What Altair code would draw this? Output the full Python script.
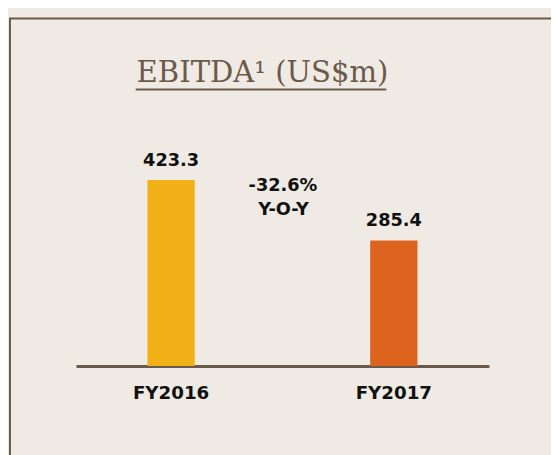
import altair as alt
import pandas as pd

years = ["FY2016", "FY2017"]
values = [423.3, 285.4]
bar_colors = ["#f0b016", "#dd641e"]
title_text = "EBITDA\u00b9 (US$m)"
yoy_lines = ["-32.6%", "Y-O-Y"]

df = pd.DataFrame({"year": years, "value": values})

BG = "#efeae4"
BROWN = "#6b5a4a"
SANS = "DejaVu Sans"
INK = "#111111"

x_scale = alt.Scale(domain=years, paddingInner=0.7876, paddingOuter=0.3208, align=0.5)
y_scale = alt.Scale(domain=[0, 598.4])

base = alt.Chart(df)

bars = base.mark_bar().encode(
    x=alt.X("year:N", scale=x_scale, sort=years, title=None,
            axis=alt.Axis(labelAngle=0, domainColor=BROWN, domainWidth=3, ticks=False, tickSize=0,
                          labelFont=SANS, labelFontSize=18.5, labelFontWeight="bold",
                          labelColor=INK, labelBaseline="alphabetic", labelPadding=33, grid=False)),
    y=alt.Y("value:Q", scale=y_scale, axis=None),
    color=alt.Color("year:N", scale=alt.Scale(domain=years, range=bar_colors), legend=None),
)

labels = base.mark_text(baseline="alphabetic", dy=-14.5, font=SANS, fontSize=18,
                        fontWeight="bold", color=INK).encode(
    x=alt.X("year:N", scale=x_scale, sort=years),
    y=alt.Y("value:Q", scale=y_scale),
    text=alt.Text("value:Q", format=".1f"),
)

yoy1 = alt.Chart(pd.DataFrame({"t": [yoy_lines[0]]})).mark_text(
    font=SANS, fontSize=18, fontWeight="bold", color=INK, baseline="alphabetic").encode(
    x=alt.value(210), y=alt.value(89), text="t:N")
yoy2 = alt.Chart(pd.DataFrame({"t": [yoy_lines[1]]})).mark_text(
    font=SANS, fontSize=18, fontWeight="bold", color=INK, baseline="alphabetic").encode(
    x=alt.value(210.5), y=alt.value(114), text="t:N")

title = alt.Chart(pd.DataFrame({"t": [title_text]})).mark_text(
    font="DejaVu Serif", fontSize=29.5, color=BROWN, align="left", baseline="alphabetic").encode(
    x=alt.value(61.5), y=alt.value(-21.5), text="t:N")

underline = alt.Chart(pd.DataFrame({"t": [0]})).mark_rule(color=BROWN, strokeWidth=2).encode(
    x=alt.value(60.6), x2=alt.value(314.8), y=alt.value(-13.5))

border = alt.Chart(pd.DataFrame({"t": [0]})).mark_rect(
    fill=BG, fillOpacity=0, stroke=BROWN, strokeWidth=2).encode(
    x=alt.value(-67), x2=alt.value(700), y=alt.value(-85.7), y2=alt.value(600))

chart = alt.layer(border, title, underline, bars, labels, yoy1, yoy2).properties(
    width=419, height=267,
    padding={"left": 69, "top": 93, "right": 63, "bottom": 87},
    autosize=alt.AutoSizeParams(type="none"),
).configure(background=BG).configure_view(strokeWidth=0)

chart.save("out.html", embed_options={"renderer": "svg", "actions": False})
